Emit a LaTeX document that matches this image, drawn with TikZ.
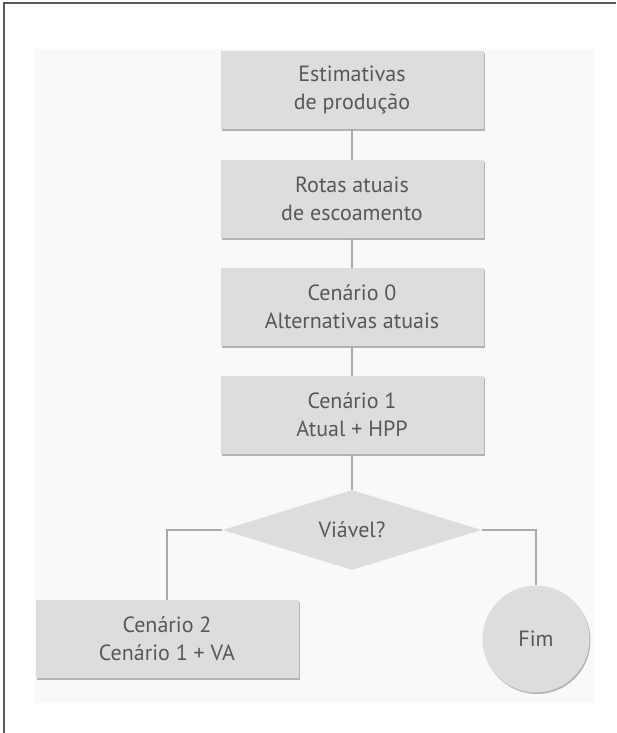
\documentclass[tikz,border=0pt]{standalone}
\usepackage{fontspec}
\setmainfont{PT Sans}
\usetikzlibrary{shapes.geometric,shadows}
\definecolor{boxgray}{RGB}{221,221,221}
\definecolor{shadegray}{RGB}{178,178,178}
\definecolor{linegray}{RGB}{170,170,170}
\definecolor{textgray}{RGB}{88,88,88}
\definecolor{paper}{RGB}{249,249,249}

\begin{document}
\begin{tikzpicture}[
                 x = 1pt,
                 y = -1pt,
   every node/.style = {font=\fontsize{22}{28}\selectfont, text=textgray, align=center},
        etapa/.style = {rectangle, fill=boxgray, minimum width=263pt, minimum height=78pt,
                        inner sep=0pt,
                        copy shadow={shadow xshift=1.5pt, shadow yshift=-2pt, fill=shadegray, draw=none}},
      decisao/.style = {diamond, fill=boxgray, aspect=3.24, minimum width=259pt,
                        minimum height=80pt, inner sep=0pt},
          fim/.style = {circle, fill=boxgray, minimum size=107pt, inner sep=0pt,
                        copy shadow={shadow xshift=1pt, shadow yshift=-1.5pt, fill=shadegray, draw=none}},
        liga/.style = {draw=linegray, line width=2pt},
                     ]
\useasboundingbox (0,0) rectangle (616,733);
\fill[paper] (35,49) rectangle (593,703);
\draw[line width=2pt, draw=black!65] (4,733) -- (4,3) -- (616,3);

\node[etapa] (est)   at (352,90)  {Estimativas\\de produção};
\node[etapa] (rotas) at (352,199) {Rotas atuais\\de escoamento};
\node[etapa] (cen0)  at (352,307) {Cenário 0\\Alternativas atuais};
\node[etapa] (cen1)  at (352,415) {Cenário 1\\Atual + HPP};
\node[decisao] (viavel) at (352,530) {Viável?};
\node[etapa] (cen2)  at (167,639) {Cenário 2\\Cenário 1 + VA};
\node[fim]   (fimno) at (536,639) {Fim};

\draw[liga] (est) -- (rotas);
\draw[liga] (rotas) -- (cen0);
\draw[liga] (cen0) -- (cen1);
\draw[liga] (cen1) -- (viavel);
\draw[liga] (viavel.west) -| (cen2.north);
\draw[liga] (viavel.east) -| (fimno.north);
\end{tikzpicture}
\end{document}
